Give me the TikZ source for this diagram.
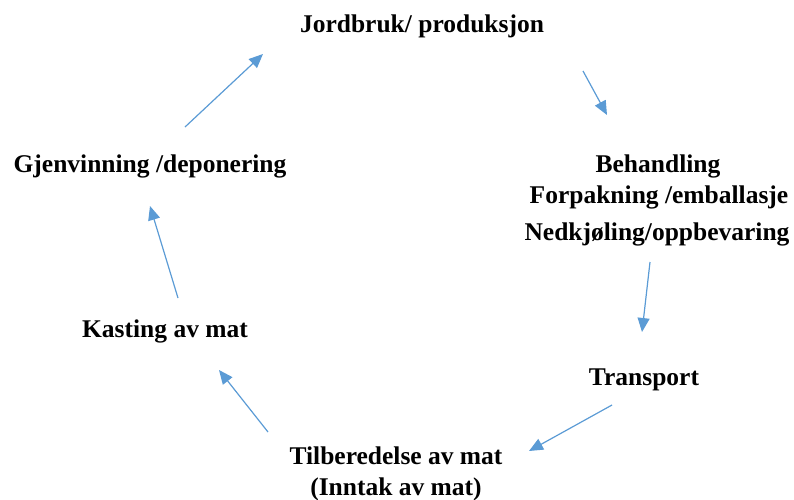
\documentclass[tikz,border=0pt]{standalone}
\usepackage{fontspec}
\setmainfont{Liberation Serif}
\usetikzlibrary{arrows.meta}
\definecolor{arrowblue}{RGB}{91,155,213}
\begin{document}
\begin{tikzpicture}[x=1pt,y=-1pt,
  lbl/.style={font=\fontsize{25.5}{32}\selectfont\bfseries, inner sep=0pt, anchor=base, align=center},
  flow/.style={draw=arrowblue, line width=1.2pt, -{Triangle[length=14pt,width=12pt]}}]
\useasboundingbox (0,0) rectangle (794,499);
\node[lbl] (jord) at (422,32) {Jordbruk/ produksjon};
\node[lbl] (beh1) at (658,172) {Behandling};
\node[lbl] (beh2) at (659,203) {Forpakning /emballasje};
\node[lbl] (beh3) at (657,240) {Nedkjøling/oppbevaring};
\node[lbl] (trans) at (644,385) {Transport};
\node[lbl] (til1) at (396,464) {Tilberedelse av mat};
\node[lbl] (til2) at (396,495) {(Inntak av mat)};
\node[lbl] (kast) at (165,337) {Kasting av mat};
\node[lbl] (gjen) at (150,172) {Gjenvinning /deponering};
\coordinate (a1s) at (583,71);  \coordinate (a1e) at (607,115);
\coordinate (a2s) at (650,262); \coordinate (a2e) at (642,332);
\coordinate (a3s) at (612,405); \coordinate (a3e) at (529,451);
\coordinate (a4s) at (268,432); \coordinate (a4e) at (219,370);
\coordinate (a5s) at (178,298); \coordinate (a5e) at (150,206);
\coordinate (a6s) at (185,127); \coordinate (a6e) at (263,54);
\draw[flow] (a1s) -- (a1e);
\draw[flow] (a2s) -- (a2e);
\draw[flow] (a3s) -- (a3e);
\draw[flow] (a4s) -- (a4e);
\draw[flow] (a5s) -- (a5e);
\draw[flow] (a6s) -- (a6e);
\end{tikzpicture}
\end{document}
